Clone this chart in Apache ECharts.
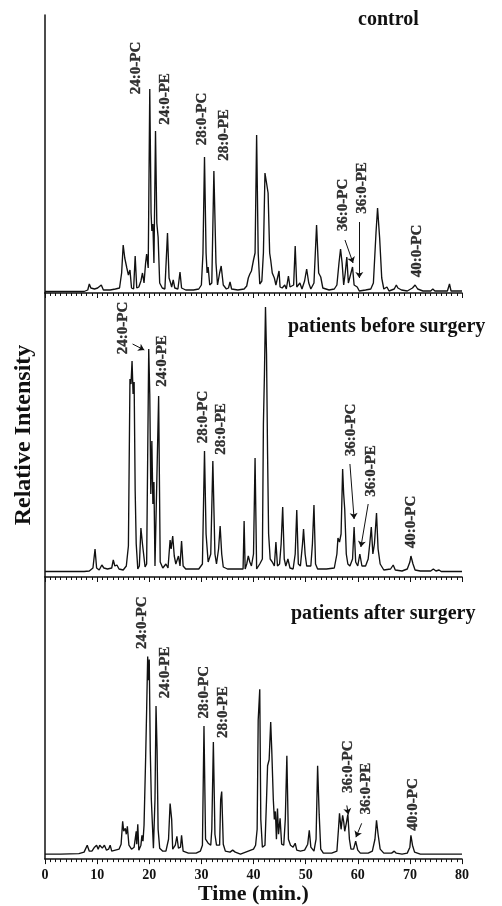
<!DOCTYPE html>
<html>
<head>
<meta charset="utf-8">
<script src="https://cdn.jsdelivr.net/npm/echarts@6/dist/echarts.min.js"></script>
<style>
html,body{margin:0;padding:0;background:#fff;}
#chart{width:502px;height:906px;}
</style>
</head>
<body>
<div id="chart"></div>
<script>
// ---- data (time in min, relative intensity in arbitrary units) ----
const panelTitles = ['control', 'patients before surgery', 'patients after surgery'];
const xTicks = [0, 10, 20, 30, 40, 50, 60, 70, 80];
const peakNames = ['24:0-PC', '24:0-PE', '28:0-PC', '28:0-PE', '36:0-PC', '36:0-PE', '40:0-PC'];

const controlTime = [0,7.5,8.2,8.5,8.8,9.5,10.1,10.4,10.8,11.2,12.5,13.5,14.3,14.7,15.0,15.3,15.7,16.0,16.3,16.6,17.0,17.3,17.6,18.0,18.4,18.7,19.0,19.3,19.5,19.8,20.1,20.35,20.5,20.7,20.9,21.2,21.45,21.7,22.0,22.5,23.0,23.5,23.8,24.1,24.3,24.6,24.9,25.5,25.9,26.2,27.0,28.5,29.5,30.0,30.3,30.6,30.9,31.1,31.3,31.6,32.0,32.4,32.8,33.1,33.5,33.8,34.2,34.8,35.2,35.5,35.8,37,38.2,38.7,39.0,39.3,39.6,40.0,40.3,40.6,40.9,41.2,41.6,41.9,42.2,42.5,42.8,43.1,43.3,43.6,44.0,44.3,44.6,44.9,45.1,45.5,46.0,46.3,46.7,47.0,47.7,48.0,48.3,48.9,49.3,49.8,50.2,50.6,51.0,51.6,52.1,52.5,52.9,53.3,54.5,55.5,56.0,56.4,56.7,57.0,57.3,57.6,57.9,58.2,58.5,59.0,59.3,59.9,60.3,61.5,62.5,63.0,63.5,63.8,64.2,64.6,65.0,65.6,66.0,67.0,67.4,67.7,68.0,68.4,69.5,70.5,71.0,71.5,72.5,74.0,74.4,74.8,77.2,77.6,77.9,80];
const controlIntensity = [1.5,1.5,3,9,5,4,5,3,8,3,3,4,5,20,48,35,25,18,23,5,4,37,5,6,12,20,10,30,39,25,204,80,62,69,30,162,70,56,10,5,4,60,15,10,6,13,5,4,21,5,3,3,4,8,39,136,40,20,26,8,10,122,30,8,20,27,8,4,5,11,4,3,4,7,15,19,22,33,40,158,40,9,12,40,120,122,100,40,33,20,15,8,10,22,6,5,8,4,17,6,8,47,6,10,4,12,24,10,4,10,68,20,16,5,3,4,8,30,44,30,8,20,36,10,8,26,8,6,2,3,4,10,60,85,55,15,4,6,2,4,8,5,7,3,2,5,8,4,2,2,4,2,2,9,2,2];

const beforeTime = [0,7.5,8.5,9.2,9.6,9.9,10.4,10.9,11.3,12.0,12.8,13.1,13.4,13.8,14.2,15.0,15.6,16.0,16.3,16.5,16.7,16.9,17.1,17.3,17.5,17.8,18.1,18.4,18.7,18.9,19.2,19.5,19.9,20.1,20.3,20.5,20.7,20.9,21.1,21.4,21.8,22.1,22.6,23.2,23.6,24.0,24.2,24.5,24.8,25.1,25.6,25.9,26.2,26.5,27.0,28.0,29.5,30.2,30.6,30.9,31.3,31.8,32.2,32.6,32.9,33.3,33.6,33.9,34.2,35.0,36.5,38.0,38.2,38.4,38.7,39.0,39.3,39.6,40.0,40.3,40.6,41.2,41.7,41.9,42.1,42.3,42.5,42.7,42.9,43.2,43.6,44.0,44.3,44.6,45.0,45.3,45.6,45.9,46.2,46.6,47.0,47.6,48.0,48.3,48.6,49.0,49.4,49.6,49.9,50.2,51.0,51.3,51.6,51.9,52.3,54.0,55.5,56.0,56.2,56.5,56.8,57.1,57.3,57.5,57.8,58.1,58.5,59.0,59.3,59.6,60.0,60.4,60.8,61.5,62.0,62.3,62.6,62.9,63.2,63.6,63.9,64.3,65.0,66.3,66.8,67.2,68.5,69.5,70.0,70.2,70.6,71.0,72.0,74.0,74.5,75.0,75.6,76.0,80];
const beforeIntensity = [2.5,2.5,3,6,25,6,4,9,6,5,6,14,8,9,5,4,8,28,195,190,213,180,192,83,30,5,8,46,30,32,7,10,225,180,80,133,70,92,8,10,178,12,6,10,6,34,25,38,18,10,18,8,33,8,5,5,5,10,123,40,12,20,113,20,10,25,48,20,7,5,5,5,53,5,10,18,12,8,20,116,5,10,15,150,200,267,220,120,40,15,12,8,32,8,10,30,67,15,8,15,6,5,20,64,10,8,30,45,20,8,8,30,69,10,5,5,6,20,36,32,40,105,80,65,20,10,8,15,47,12,8,20,8,8,15,30,47,20,30,61,25,10,4,5,9,4,3,5,12,18,10,4,3,3,5,3,4,2.5,2.5];

const afterTime = [0,3,6.5,7.5,8.1,8.5,9.0,9.5,9.9,10.2,10.5,11.0,11.4,11.8,12.2,12.5,12.8,13.5,14.2,14.6,14.9,15.1,15.4,15.6,15.8,16.1,16.6,17.1,17.5,17.6,17.8,18.0,18.4,18.6,18.8,19.0,19.3,19.5,19.7,19.85,20.0,20.2,20.4,20.8,21.1,21.3,21.5,21.7,22.0,22.6,23.2,23.7,24.0,24.3,24.5,25.0,25.3,25.6,26.0,26.2,26.5,27.5,29.0,29.8,30.2,30.5,30.8,31.3,31.8,32.0,32.3,32.6,32.9,33.5,33.7,33.9,34.2,34.6,35.5,36.0,36.5,37.5,39.0,40.0,40.4,40.7,40.9,41.2,41.4,41.7,42.2,42.5,42.7,43.0,43.3,43.5,43.8,44.0,44.2,44.4,44.6,44.8,45.1,45.4,45.8,46.1,46.4,46.7,47.1,47.6,48.0,48.3,49.0,49.8,50.4,50.7,51.0,51.6,52.0,52.3,52.6,52.9,53.4,55.0,56.0,56.3,56.5,56.8,57.1,57.3,57.5,57.8,58.1,58.4,58.7,59.2,59.6,60.0,60.5,62.0,62.8,63.3,63.6,63.9,64.3,65.0,66.5,67.0,67.4,68.5,69.5,70.0,70.2,70.5,70.9,72.0,80];
const afterIntensity = [5,5,5.5,7,14,8,8,12,14,10,14,11,14,9,10,14,8,9,10,15,38,28,31,25,33,14,10,12,28,15,35,9,14,24,18,34,100,150,204,180,201,108,60,11,60,154,110,30,11,8,8,20,56,40,10,14,23,11,12,24,8,6,6,8,14,134,20,16,14,30,118,25,14,14,60,68,15,8,7,9,7,5,8,10,14,30,140,171,40,12,14,60,94,100,138,110,60,40,48,20,51,25,41,15,14,40,104,20,14,12,16,9,8,9,15,29,12,8,20,94,45,10,6,6,8,30,46,30,44,38,28,36,45,20,10,10,18,9,6,6,8,20,39,25,10,6,6,8,6,5,6,12,24,14,7,5,5];

// peak label anchor points [time, intensity] per panel (order of peakNames)
const controlLabelPos = [[17.45,225],[23.0,194],[30.1,174],[34.3,158],[57.2,88],[60.8,105],[71.4,42]];
const beforeLabelPos  = [[15.0,246],[22.4,213],[30.25,157],[33.7,145],[58.65,144],[62.5,103],[70.2,52]];
const afterLabelPos   = [[18.55,238],[23.0,188],[30.5,168],[34.2,148],[58.2,93],[61.7,71],[70.65,55]];

// arrows from label to peak: [[t1,v1],[t2,v2]]
const controlArrows = [[[57.55,53],[59.1,30]], [[60.3,71],[60.3,15]]];
const beforeArrows  = [[[16.8,230],[19.05,224]], [[58.5,110],[59.3,55]], [[62.0,70],[60.6,27]]];
const afterArrows   = [[[57.9,54],[58.2,45]], [[60.75,36],[59.65,22]]];

// ---- chart ----
const FONT = '"Liberation Serif", "Times New Roman", serif';
const INK = '#111';
const zip = (a, b) => a.map((v, i) => [v, b[i]]);

const grids = [
  {left: 45, right: 40, top: 15, height: 278},
  {left: 45, right: 40, top: 293, height: 284},
  {left: 45, right: 40, top: 577, height: 284}
];
const yRanges = [[0, 278], [-3, 281], [0, 284]];

const xAxes = grids.map((g, i) => ({
  gridIndex: i, type: 'value', min: xTicks[0], max: xTicks[xTicks.length - 1], interval: 10,
  axisLine: {show: true, onZero: false, lineStyle: {color: INK, width: 1.5}},
  axisTick: {show: true, inside: false, length: 5, lineStyle: {color: INK, width: 1}},
  minorTick: {show: true, splitNumber: 10, length: 3, lineStyle: {color: INK, width: 1}},
  splitLine: {show: false}, minorSplitLine: {show: false},
  axisLabel: {show: i === 2, margin: 9, color: INK, fontFamily: FONT, fontWeight: 'bold', fontSize: 14},
  name: i === 2 ? 'Time (min.)' : '', nameLocation: 'middle', nameGap: 22,
  nameTextStyle: {color: INK, fontFamily: FONT, fontWeight: 'bold', fontSize: 22}
}));

const yAxes = grids.map((g, i) => ({
  gridIndex: i, type: 'value', min: yRanges[i][0], max: yRanges[i][1],
  axisLine: {show: true, lineStyle: {color: INK, width: 1.5}},
  axisTick: {show: false}, axisLabel: {show: false}, splitLine: {show: false},
  name: i === 1 ? 'Relative Intensity' : '', nameLocation: 'middle', nameRotate: 90, nameGap: 9,
  nameTextStyle: {color: INK, fontFamily: FONT, fontWeight: 'bold', fontSize: 24}
}));

const traces = [zip(controlTime, controlIntensity), zip(beforeTime, beforeIntensity), zip(afterTime, afterIntensity)];
const labelPos = [controlLabelPos, beforeLabelPos, afterLabelPos];
const arrows = [controlArrows, beforeArrows, afterArrows];

const series = [];
traces.forEach((d, i) => {
  series.push({
    type: 'line', xAxisIndex: i, yAxisIndex: i, data: d, showSymbol: false, symbol: 'none',
    lineStyle: {color: INK, width: 1.35}, silent: true
  });
  series.push({
    type: 'scatter', xAxisIndex: i, yAxisIndex: i, symbolSize: 1, itemStyle: {color: 'rgba(0,0,0,0)'},
    silent: true,
    data: labelPos[i].map((p, k) => ({name: peakNames[k], value: p})),
    label: {show: true, position: 'inside', rotate: 90, formatter: '{b}', align: 'center', verticalAlign: 'middle',
      color: '#000', fontFamily: FONT, fontWeight: 'bold', fontSize: 15,
      textBorderColor: '#000', textBorderWidth: 0.35}
  });
  series.push({
    type: 'lines', coordinateSystem: 'cartesian2d', xAxisIndex: i, yAxisIndex: i,
    symbol: ['none', 'arrow'], symbolSize: 6, silent: true,
    lineStyle: {color: INK, width: 1, opacity: 1},
    data: arrows[i].map(a => ({coords: a}))
  });
});

const titles = [
  {text: panelTitles[0], left: 358, top: 10},
  {text: panelTitles[1], left: 288, top: 317},
  {text: panelTitles[2], left: 291, top: 604}
].map(t => Object.assign(t, {padding: 0, textStyle: {color: INK, fontFamily: FONT, fontWeight: 'bold', fontSize: 20}}));

const chart = echarts.init(document.getElementById('chart'), null, {renderer: 'canvas'});
chart.setOption({
  animation: false,
  backgroundColor: '#fff',
  title: titles,
  grid: grids,
  xAxis: xAxes,
  yAxis: yAxes,
  series: series
});
</script>
</body>
</html>
